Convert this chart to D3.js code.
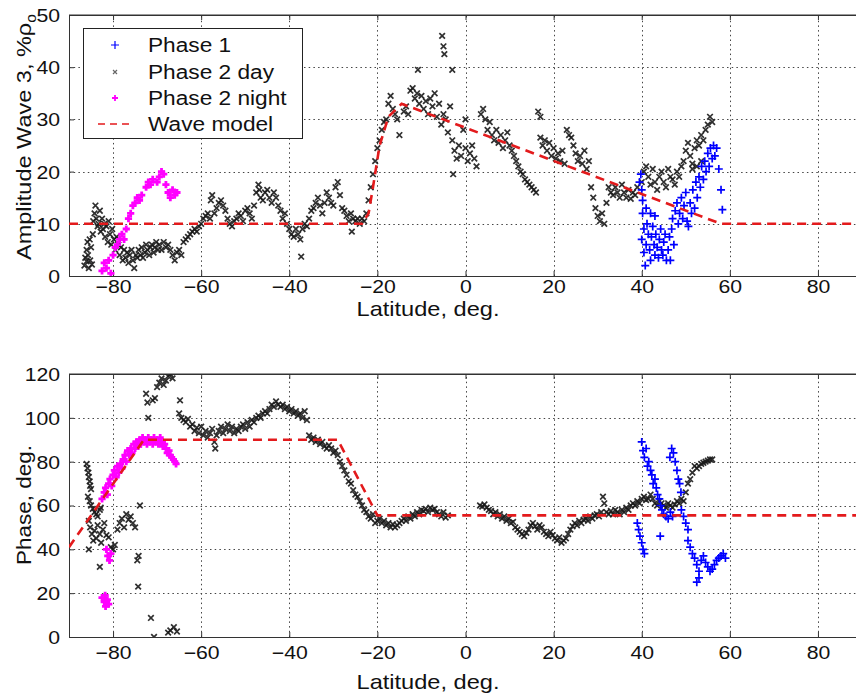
<!DOCTYPE html>
<html><head><meta charset="utf-8">
<script src="https://cdn.jsdelivr.net/npm/d3@7"></script>
<style>
body{margin:0;background:#fff;}
svg{display:block;font-family:"Liberation Sans",Arial,Helvetica,sans-serif;}
</style></head>
<body><svg id="chart" width="856" height="696"></svg>
<script>
// ---------- DATA ----------
const xTicks = [-80,-60,-40,-20,0,20,40,60,80];
const ampTicks = [0,10,20,30,40,50];
const phaseTicks = [0,20,40,60,80,100,120];
const legendLabels = ["Phase 1","Phase 2 day","Phase 2 night","Wave model"];

// Top panel: amplitude (lat, %)
const ampDay = [[-86.5,2],[-86.3,3.5],[-86,5],[-86,2.8],[-85.8,6.5],[-85.7,4],[-85.5,1.5],[-85.3,7],[-85.2,3],[-85,5.5],[-84.8,2.2],[-84.6,8],[-84.5,10.5],[-84.2,12],[-84,13.5],[-83.8,11],[-83.5,9.5],[-83.3,10],[-83,12.5],[-82.8,8.5],[-82.5,11],[-82.3,9],[-82,10],[-81.8,7.5],[-81.5,9.5],[-81.2,6.5],[-81,10.5],[-80.7,8],[-80.4,6],[-80.2,9],
[-79.8,7],[-79.5,5],[-79.2,7.5],[-78.8,6],[-78.5,4],[-78.2,5.5],[-77.8,3],[-77.5,5],[-77.2,3.5],[-76.8,4.5],[-76.5,2.5],[-76.2,4],[-75.8,5],[-75.5,3],[-75.2,1.5],[-74.8,4],[-74.5,3.5],[-74.2,5],[-73.8,4],[-73.5,5.5],[-73.2,3.5],[-72.8,4.5],[-72.5,6],[-72.2,5],[-71.8,4],[-71.5,5.5],[-71.2,6],[-70.8,4.5],[-70.5,5.5],[-70.2,6.5],[-69.8,5],[-69.5,6],[-69,5],[-68.5,6.5],[-68,5.5],[-67.5,6],[-67,5],[-66.5,4],[-66,3],[-65.5,4.5],[-65,5],[-64.5,4],
[-64,6.5],[-63.5,7],[-63,7.5],[-62.5,8],[-62,8.5],[-61.5,9],[-61,8.5],[-60.5,9.5],[-60,10],[-59.5,11],[-59,11.5],[-58.5,12],[-58,11],[-57.8,14.5],[-57.5,15.5],[-57,12],[-56.5,13],[-56,14],[-55.5,14.5],[-55,13.5],[-54.5,12.5],[-54,11],[-53.5,10],[-53,9.5],[-52.5,10.5],[-52,11],[-51.5,12],[-51,11.5],[-50.5,10.5],[-50,12.5],[-49.5,13],[-49,12],[-48.5,11],[-48,13.5],[-47.5,16],[-47,17.5],[-46.8,16.5],[-46.5,15],[-46,14.5],[-45.5,16],[-45,16.5],[-44.5,15],[-44,14],[-43.5,16],[-43,15],[-42.5,13.5],[-42,12.5],[-41.5,11],[-41,12],[-40.5,10],[-40,9],[-39.5,8],[-39,7.5],[-38.5,9],[-38,8],[-37.5,7],[-37.3,3.7],[-37,9],[-36.5,10],[-36,9.5],[-35.5,11],[-35,12.5],[-34.5,13],[-34,14],[-33.5,15],[-33,13.5],[-32.5,12],[-32,14],[-31.5,16],[-31,15],[-30.5,14],[-30,13.5],[-29.5,17],[-29,18],[-28.5,15.5],[-28,13],[-27.5,12.5],[-27,11.5],[-26.5,10.5],[-26,12],[-25.8,8.5],[-25.5,11],[-25,10.5],[-24.5,11],[-24,10],[-23.5,11],[-23,10.5],[-22.5,12],
[-22,14.5],[-21.5,17],[-21,19.5],[-20.5,22],[-20,24.5],[-19.5,26],[-19,28],[-18.5,29.5],[-18,30],[-17.5,33],[-17,34.5],[-16.5,32],[-16,31],[-15.5,30],[-15,27],
[-14,31.5],[-13.5,32.5],[-13,31],[-12.5,35.5],[-12,36],[-11.5,34],[-11,35],[-10.8,39.5],[-10.5,33],[-10,34.5],[-9.5,32],[-9,33.5],[-8.5,31],[-8,34],[-7.5,32.5],[-7,35],[-6.5,30.5],[-6,33],[-5.5,29],[-5.3,46],[-5,44],[-4.8,42.5],[-5,31],[-4.5,30],[-4,27.5],[-3.5,32.5],[-3,39.5],[-3,26],[-2.8,19.5],[-2.5,24],[-2,22.5],[-1.5,25],[-1,23],[-0.5,28],[0,30],[0,24.5],[0.5,22],[1,23.5],[1.5,25],[2,22.5],[2.5,21],
[3.5,31],[4,32],[4.5,30],[5,28],[5.5,29.5],[6,27],[6.5,26],[7,28],[7.5,25.5],[8,27],[8.5,24.5],[9,26],[9.5,27.5],[10,25],[10.5,24],[11,23],[11.5,22],[12,21],[12.5,20],[13,19.5],[13.5,18.5],[14,18],[14.5,17.5],[15,17],[15.5,16.5],[16,16],[16.5,31.5],[17,30.5],[17,26.5],[17.5,25],[18,26],[18.5,24],[19,25.5],[19.5,23],[20,24.5],[20.5,22.5],[21,23.5],[21.5,22],[22,24],[22.5,21.5],[23,28],[23.5,27],[24,26.5],[24.5,25],[25,23.5],[25.5,22],[26,23],[26.5,21.5],[27,24],[27.5,20.5],[28,22],[28.5,17],[29,15],[29.5,13],[30,11.5],[30.5,10.5],[31,12],[31.5,10],[32,14],[32.5,17],[33,16],[33.5,15.5],[34,17],[34.5,16],[35,15],[35.5,17.5],[36,16],[36.5,15],[37,16.5],[37.5,14.8],[38,16],[38.5,15.5],[39,17],
[40,18],[40.5,20],[41,21],[41.5,19],[42,17.5],[42.5,20.5],[43,18],[43.5,16.5],[44,19],[44.5,20],[45,18],[45.5,17],[46,20.5],[46.5,19],[47,18.5],[47.5,17.5],[48,20],[48.5,19],[49,21],[49.5,22],[50,24],[50.5,25.5],[51,23],[51.5,21.5],[52,24.5],[52.5,26],[53,25],[53.5,27],[54,26],[54.5,28],[55,29],[55.5,30.5],[56,29.5],[51.5,20.5],[52.5,21],[53.5,22]];

const ampP1 = [[39.5,18],[39.8,19.5],[40,16.5],[40.2,12],[40.2,14.5],[40.5,9],[40,7],[40.5,4.5],[40.8,2],[41,6],[41,13],[41.2,10],[41.5,8],[41.8,5],[42,3],[42,12],[42.2,7.5],[42.5,9.5],[42.8,6],[43,4],[43,11.5],[43.2,8],[43.5,5.5],[43.8,3.5],[44,7],[44.3,9],[44.5,5],[44.8,4],[45,6.5],[45.3,8],[45.6,3],[46,5],[46.3,7.5],[46.5,3],[46.8,9],[47,11],[47.3,6],[47.6,12.5],[48,14],[48.3,10],[48.6,12],[49,15],[49.3,11],[49.6,13.5],[50,16],[50.3,10.5],[50.6,9.5],[51,14],[51.3,12],[51.6,16.5],[52,13],[52.3,18],[52.6,15],[53,19],[53.3,17],[53.6,21],[54,18.5],[54.3,22],[54.6,20],[55,23.5],[55.3,21],[55.6,24.5],[56,22.5],[56.3,25],[56.6,23],[57,24.5],[57.5,20.5],[58,16.5],[58.3,12.7]];

const ampNight = [[-82.5,1],[-82,2.5],[-81.5,1.5],[-81,3],[-80.5,0.5],[-80,4],[-79.5,5.5],[-79,6],[-78.5,7],[-78,8],[-77.5,7],[-77,9],[-76.5,11],[-76,12],[-75.5,13.5],[-75,14],[-74.5,15],[-74,14.5],[-73.5,15.5],[-72.5,17],[-72,18],[-71.5,17.5],[-71,18.5],[-70,18],[-69.5,19],[-69,20],[-68.5,19.5],[-68,17.5],[-67.5,16],[-67,15],[-66.5,16.5],[-66,15.5],[-65.5,16]];

const ampModel = [[-90,10],[-23.5,10],[-22,12],[-21,17],[-19.5,25],[-17.5,30.5],[-14.5,33],[58,10],[90,10]];

// Bottom panel: phase (lat, deg)
const phDay = [[-86,79],[-85.8,77],[-85.6,75],[-85.5,73],[-85.3,71],[-85.2,69],[-85,67.5],[-85.7,64],[-85.3,62],[-85,60],[-84.6,58.5],[-84.2,57],[-83.8,56],[-83.5,55],[-83,58],[-82.8,59],[-85.5,53],[-85.2,50],[-84.8,47],[-84.5,44],[-84.2,48.5],[-83.8,45],[-83.5,51],[-83,47],[-82.7,43],[-82.3,49],[-82,52],[-81.5,46.5],[-81,45.5],[-80.5,41],[-80,40],[-79.6,42],[-83,32],[-85.5,40],[-79,49],[-78.5,52],[-78,54],[-77.5,50],[-77,56],[-76.5,53.5],[-76,55],[-75.5,52],[-75,50],[-73.9,60],[-74.5,35],[-74.2,37],[-74.3,23],[-71.4,8.7],[-70.7,0],[-67.5,2],[-67,3],[-66.2,4.5],[-65.5,2.5],
[-72.5,111],[-72,100],[-72.2,107],[-71,108],[-70.5,109],[-70,114],[-69.5,116],[-69,118],[-68.5,115],[-68,117],[-67.5,119],[-67,120],[-66.5,118],[-64.8,108],
[-65,102],[-64.5,100],[-64,99],[-63.5,98],[-63,99.5],[-62.5,96],[-62,97],[-61.5,94],[-61,95.5],[-60.5,93],[-60,96],[-59.5,92],[-59,94],[-58.5,91],[-58,93],[-57.5,95],[-57,89],[-56.8,86],[-56.5,92],[-56,94],[-55.5,96],[-55,93],[-54.5,95],[-54,97],[-53.5,94],[-53,96],[-52.5,93],[-52,95],[-51.5,94],[-51,96],[-50.5,97],[-50,95],[-49.5,98],[-49,96],[-48.5,99],[-48,98],[-47.5,100],[-47,101],[-46.5,100],[-46,102],[-45.5,103],[-45,102],[-44.5,104],[-44,106],[-43.5,105],[-43,107.5],[-42.5,106],[-42,105],[-41.5,106],[-41,104],[-40.5,105],[-40,103],[-39.5,104],[-39,102],[-38.5,103],[-38,101],[-37.5,102],[-37,100],[-36.5,103],[-36,99],
[-35.5,92],[-35,90],[-34.5,91],[-34,89],[-33.5,90],[-33,88],[-32.5,89],[-32,87],[-31.5,86],[-31,87.5],[-30.5,86],[-30,84],[-29.5,85],[-29,83],[-28.5,80],[-28,78],[-27.5,76],[-27,74],[-26.5,71],[-26,70],[-25.5,67],[-25,65],[-24.5,64],[-24,62],[-23.5,60],[-23,58],[-22.5,57],[-22,55],[-21.5,54],[-21,56],[-20.5,52],[-20,53],[-19.5,54],[-19,52],[-18.5,53],[-18,51],[-17.5,52],[-17,50],[-16.5,51.5],[-16,50],[-15.5,51],[-15,52],[-14.5,53],[-14,54],[-13.5,53],[-13,55],[-12.5,54],[-12,56],[-11.5,55],[-11,57],[-10.5,56],[-10,58],[-9.5,57.5],[-9,58.5],[-8.5,57],[-8,59],[-7.5,58],[-7,58.5],[-6.5,57],[-6,56],[-5.5,55],[-5,57],[-4.5,54.5],[-4,55.5],
[3.3,60],[3.8,59.5],[4.3,60.5],[4.8,59],[5.3,58],[5.8,57.5],[6.3,56],[6.8,57],[7.3,55],[7.8,56],[8.3,54],[8.8,55],[9.3,53],[9.8,54],[10.3,52],[10.8,52.5],[11.3,50],[11.8,49],[12.3,48],[12.8,47],[13.3,46],[13.8,47.5],[14.3,49],[14.8,51],[15.3,52],[15.8,50.5],[16.3,49],[16.8,51],[17.3,50],[17.8,48],[18.3,47],[18.8,46],[19.3,48],[19.8,46.5],[20.3,45],[20.8,44],[21.3,45.5],[21.8,43],[22.3,44],[22.8,45],[23.3,47],[23.8,49],[24.3,50.5],[24.8,52],[25.3,51],[25.8,53],[26.3,52],[26.8,53.5],[27.3,54],[27.8,53],[28.3,55],[28.8,54],[29.3,55.5],[29.8,56],[30.3,55],[30.8,57],[31.2,64],[31.5,61],[32,57],[32.5,56],[33,57.5],[33.5,56],[34,58],[34.5,57],[35,56],[35.5,58],[36,57],[36.5,59],[37,58],[37.5,60],[38,61],[38.5,60],[39,62],[39.5,61],[40,63],[40.5,64],[41,62.5],[41.5,63],[42,65],[42.5,63],[43,61],[43.5,60],[44,62],[44.5,61],[45,60],[45.5,59],[46,61],[46.5,60],[47,59],[47.5,60.5],[48,62],[48.5,61],[49,63],[49.5,62],[50,66],[50.5,70],[51,72],[51.5,75],[52,78],[52.5,77],[53,78],[53.5,79],[54,79.5],[54.5,80],[55,80.5],[55.5,81],[56,81]];

const phP1 = [[40,89],[40.3,85],[40.6,82],[41,86],[41.3,78],[41.6,80],[42,76],[42.3,74],[42.6,70],[43,72],[43.3,68],[43.6,65],[44,63],[44.3,60],[44.6,58],[45,56],[45.5,55],[46,54],[46.5,57],[47,55],[46.4,82],[46.8,86],[47.2,84],[47.6,80],[48,76],[48.3,72],[48.6,70],[48.9,66],[49,58],[49.5,55],[50,52],[50.5,49],[39,52],[39.3,49],[39.6,46],[40,43],[40.3,40],[40.6,38],[44.2,46],[50.5,44],[51,41],[51.5,38],[52,36],[52.5,33],[53,30],[53,27],[52.5,25],[53.5,35],[54,37],[54.5,34],[55,32],[55.5,30],[56,31],[56.5,33],[57,35],[57.5,36],[58,37],[58.5,38],[59,36]];

const phNight = [[-82.5,63],[-82,66],[-81.7,68],[-81.3,65],[-81,70],[-80.7,72],[-80.3,69],[-80,74],[-79.7,76],[-79.3,73],[-79,78],[-78.7,75],[-78.3,79],[-78,77],[-77.7,81],[-77.3,83],[-77,80],[-76.7,85],[-76.3,83],[-76,86],[-75.7,84],[-75.3,88],[-75,86],[-74.7,89],[-74.3,87],[-74,90],[-73.7,88],[-73.3,91],[-73,89],[-72.7,90],[-72.3,88],[-72,91],[-71.7,89],[-71.3,90],[-71,88],[-70.7,91],[-70.3,89],[-70,90],[-69.7,88],[-69.3,91],[-69,89],[-68.7,87],[-68.3,88],[-68,86],[-67.7,84],[-67.3,85],[-67,83],[-66.7,82],[-66.3,81],[-66,80],[-65.7,79],[-81.5,40],[-81.2,37],[-80.8,35],[-80.5,38],[-82.5,18],[-82,16],[-81.7,14],[-81.3,17],[-81,15],[-81.8,19]];

const phModel = [[-90,41],[-73,90],[-29,90],[-20,55.5],[90,55.5]];

// ---------- DRAW ----------
const svg = d3.select("#chart");
const COL = {p1:"#0000ff", day:"#1a1a1a", night:"#ff00ff", model:"#e31a1c"};
const plusPath = r => `M${-r},0H${r}M0,${-r}V${r}`;
const xPath = r => `M${-r},${-r}L${r},${r}M${-r},${r}L${r},${-r}`;

function panel(o){
  const x = d3.scaleLinear().domain([-90,90]).range([69,862]);
  const y = d3.scaleLinear().domain(o.ydom).range([o.y0,o.y1]);
  const g = svg.append("g");
  const clipId = "clip"+o.id;
  svg.append("clipPath").attr("id",clipId).append("rect")
     .attr("x",69).attr("y",o.y1).attr("width",793).attr("height",o.y0-o.y1);
  g.append("rect").attr("x",69).attr("y",o.y1).attr("width",793).attr("height",o.y0-o.y1).attr("fill","#fff");
  // grid
  const grid = g.append("g").attr("stroke","#444").attr("stroke-width",1).attr("stroke-dasharray","1.5,3.2");
  grid.selectAll(".gx").data(xTicks).join("line")
      .attr("x1",d=>Math.round(x(d))+0.5).attr("x2",d=>Math.round(x(d))+0.5).attr("y1",o.y0).attr("y2",o.y1);
  grid.selectAll(".gy").data(o.ticks).join("line")
      .attr("x1",69).attr("x2",862).attr("y1",d=>Math.round(y(d))+0.5).attr("y2",d=>Math.round(y(d))+0.5);
  // axes
  const ax = g.append("g").attr("transform",`translate(0,${o.y0})`)
     .call(d3.axisBottom(x).tickValues(xTicks).tickSize(-5).tickPadding(o.xpad).tickFormat(d=>d<0?"\u2212"+Math.abs(d):d));
  const ay = g.append("g").attr("transform",`translate(69,0)`)
     .call(d3.axisLeft(y).tickValues(o.ticks).tickSize(-5).tickPadding(8));
  const axT = g.append("g").attr("transform",`translate(0,${o.y1})`)
     .call(d3.axisTop(x).tickValues(xTicks).tickSize(-5).tickFormat(""));
  [ax,ay,axT].forEach(a=>{
    a.select(".domain").attr("stroke","#333");
    a.selectAll(".tick line").attr("stroke","#333");
    a.selectAll("text").attr("fill","#111").style("font-size","18px").style("font-family","Liberation Sans, Arial, sans-serif");
  });
  ax.selectAll("text").attr("transform","scale(1.18,1)");
  ay.selectAll("text").attr("transform","scale(1.18,1)").attr("x",-7.5).attr("dy","0.36em");
  // points
  const pts = g.append("g").attr("clip-path",`url(#${clipId})`);
  pts.selectAll(".d").data(o.day).join("path")
     .attr("transform",d=>`translate(${x(d[0])},${y(d[1])})`).attr("d",xPath(2.8))
     .attr("stroke",COL.day).attr("stroke-width",1.7).attr("fill","none").attr("opacity",0.9);
  pts.selectAll(".n").data(o.night).join("path")
     .attr("transform",d=>`translate(${x(d[0])},${y(d[1])})`).attr("d",plusPath(3.6))
     .attr("stroke",COL.night).attr("stroke-width",2.8).attr("fill","none");
  pts.selectAll(".p").data(o.p1).join("path")
     .attr("transform",d=>`translate(${x(d[0])},${y(d[1])})`).attr("d",plusPath(4))
     .attr("stroke",COL.p1).attr("stroke-width",1.7).attr("fill","none");
  pts.append("path").datum(o.model)
     .attr("d",d3.line().x(d=>x(d[0])).y(d=>y(d[1])))
     .attr("stroke",COL.model).attr("stroke-width",2.6).attr("stroke-dasharray","9,6").attr("fill","none");
  // box (top line)
  g.append("line").attr("x1",69).attr("x2",862).attr("y1",o.y1).attr("y2",o.y1).attr("stroke","#333");
  // labels
  g.append("text").attr("transform",`translate(428,${o.xlabY}) scale(1.18,1)`).attr("text-anchor","middle")
     .style("font-size","20px").attr("fill","#111").text("Latitude, deg.");
  return {x,y,g};
}

const panelTop = panel({id:"a",ydom:[0,50],y0:276,y1:15,ticks:ampTicks,day:ampDay,p1:ampP1,night:ampNight,model:ampModel,xlabY:316,xpad:4});
const panelBot = panel({id:"b",ydom:[0,120],y0:637,y1:374,ticks:phaseTicks,day:phDay,p1:phP1,night:phNight,model:phModel,xlabY:689,xpad:9});

// y labels
const yl1 = svg.append("text").attr("transform","translate(31,137) rotate(-90) scale(1.12,1)").attr("text-anchor","middle")
   .style("font-size","21px").attr("fill","#111");
yl1.append("tspan").text("Amplitude Wave 3, %\u03C1");
yl1.append("tspan").attr("dy",5).style("font-size","14px").text("o");
svg.append("text").attr("transform","translate(31,505) rotate(-90) scale(1.07,1)").attr("text-anchor","middle")
   .style("font-size","21px").attr("fill","#111").text("Phase, deg.");

// legend
const lg = svg.append("g");
lg.append("rect").attr("x",83.5).attr("y",28.5).attr("width",219).attr("height",110)
  .attr("fill","#fff").attr("stroke","#222").attr("stroke-width",1);
const ly = [45,72,98,124];
lg.append("path").attr("d",plusPath(4)).attr("transform",`translate(115,${ly[0]})`).attr("stroke",COL.p1).attr("stroke-width",1.2).attr("fill","none");
lg.append("path").attr("d",xPath(2)).attr("transform",`translate(115,${ly[1]})`).attr("stroke","#666").attr("stroke-width",1.2).attr("fill","none");
lg.append("path").attr("d",plusPath(3)).attr("transform",`translate(115,${ly[2]})`).attr("stroke",COL.night).attr("stroke-width",1.8).attr("fill","none");
lg.append("line").attr("x1",98).attr("x2",134).attr("y1",ly[3]).attr("y2",ly[3]).attr("stroke",COL.model).attr("stroke-width",1.5).attr("stroke-dasharray","7,5");
lg.selectAll(".lt").data(legendLabels).join("text")
  .attr("transform",(d,i)=>`translate(148,${ly[i]+7}) scale(1.08,1)`).style("font-size","21px").attr("fill","#111").text(d=>d);
</script></body></html>
